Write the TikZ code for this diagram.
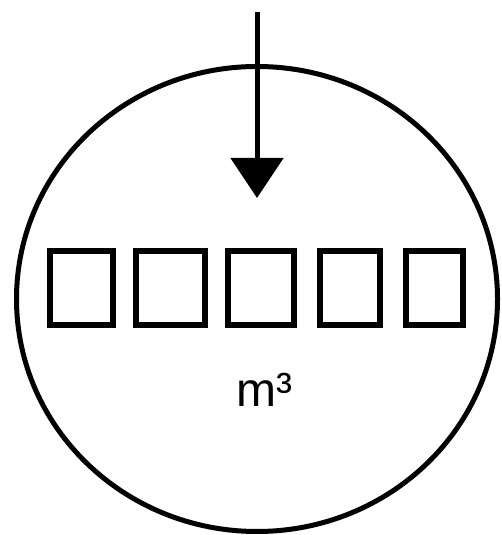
\documentclass[tikz,border=0pt]{standalone}
\usepackage{fontspec}
\setmainfont{Liberation Sans}
\usetikzlibrary{arrows.meta,shapes.geometric}

\begin{document}
\begin{tikzpicture}[x=1pt,y=1pt]
\useasboundingbox (0,0) rectangle (501,535);
\tikzset{digit/.style={draw, rectangle, line width=6pt, minimum height=74pt, inner sep=0pt}}
\node[draw, ellipse, line width=5pt, minimum width=481pt, minimum height=465pt, inner sep=0pt] (meter) at (257,236) {};

\node[digit, minimum width=63pt] (d1) at (81.5,247) {};
\node[digit, minimum width=69pt] (d2) at (170.5,247) {};
\node[digit, minimum width=66pt] (d3) at (261,247) {};
\node[digit, minimum width=60pt] (d4) at (350,247) {};
\node[digit, minimum width=57pt] (d5) at (434.5,247) {};

\node[anchor=base, inner sep=0pt, font=\fontsize{48}{48}\selectfont] (unit) at (264,128) {m³};

\coordinate (in) at (257,523);
\coordinate (tip) at (257,337);
\path[draw, line width=5pt, -{Triangle[width=52pt,length=40pt]}] (in) -- (tip);
\end{tikzpicture}
\end{document}
